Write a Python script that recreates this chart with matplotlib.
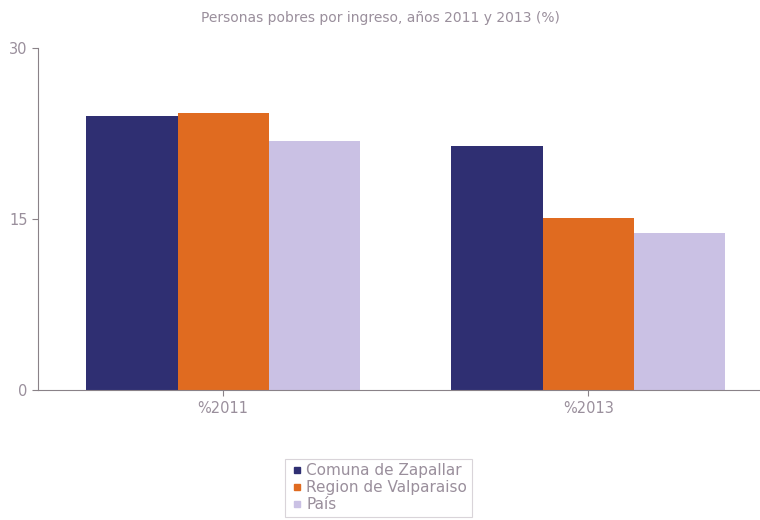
import matplotlib.pyplot as plt
import numpy as np

# data
groups = ["%2011", "%2013"]
series = ["Comuna de Zapallar", "Region de Valparaiso", "País"]
comuna = [24.0, 21.4]
region = [24.3, 15.1]
pais = [21.8, 13.8]
colors = ["#2f2f72", "#e06b20", "#cac1e4"]
text_col = "#9a8f9c"

fig = plt.figure(figsize=(7.6, 5.2), dpi=100)
ax = fig.add_axes([0.05, 0.25, 0.95, 0.658])

x = np.arange(len(groups))
w = 0.25
for i, (vals, name) in enumerate(zip([comuna, region, pais], series)):
    ax.bar(x + (i - 1) * w, vals, w, color=colors[i], label=name)

ax.set_xlim(-0.507, 1.47)
ax.set_ylim(0, 30)
ax.set_yticks([0, 15, 30])
ax.set_xticks(x)
ax.set_xticklabels(groups)

for s in ["top", "right"]:
    ax.spines[s].set_visible(False)
for s in ["left", "bottom"]:
    ax.spines[s].set_color("#8a8288")
    ax.spines[s].set_linewidth(0.8)
ax.tick_params(colors="#8a8288", labelcolor=text_col, labelsize=10.5, length=4, width=0.8)
ax.tick_params(axis="x", pad=4)

fig.text(0.5, 0.965, "Personas pobres por ingreso, años 2011 y 2013 (%)",
         ha="center", va="center", color=text_col, fontsize=10)

# legend with small square markers
handles = [plt.Line2D([], [], marker="s", linestyle="", color=c, markersize=4) for c in colors]
leg = fig.legend(handles, series, loc="lower left", bbox_to_anchor=(0.365, -0.008),
                 frameon=True, fontsize=11, handletextpad=0.1, handlelength=1,
                 labelspacing=0.12, borderpad=0.3, fancybox=False)
leg.get_frame().set_edgecolor("#d0cad0")
leg.get_frame().set_linewidth(0.8)
for t in leg.get_texts():
    t.set_color(text_col)

fig.savefig("out.png", dpi=100)
